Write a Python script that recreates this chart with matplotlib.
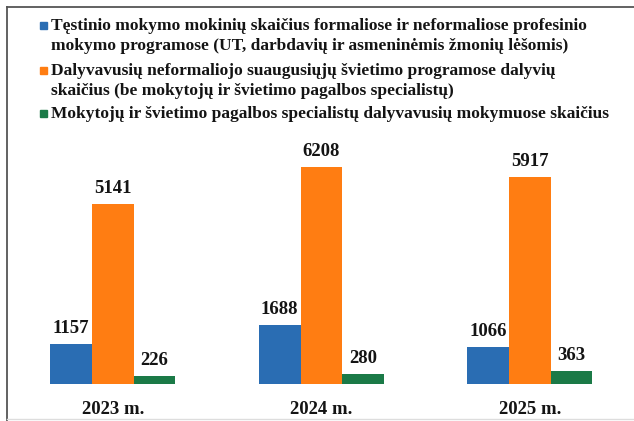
import matplotlib
matplotlib.use("Agg")
import matplotlib.pyplot as plt
from matplotlib.patches import Rectangle
from matplotlib.lines import Line2D
import numpy as np

categories = ["2023 m.", "2024 m.", "2025 m."]
series_labels = [
    "Tęstinio mokymo mokinių skaičius formaliose ir neformaliose profesinio\nmokymo programose (UT, darbdavių ir asmeninėmis žmonių lėšomis)",
    "Dalyvavusių neformaliojo suaugusiųjų švietimo programose dalyvių\nskaičius (be mokytojų ir švietimo pagalbos specialistų)",
    "Mokytojų ir švietimo pagalbos specialistų dalyvavusių mokymuose skaičius",
]
blue_values = [1157, 1688, 1066]
orange_values = [5141, 6208, 5917]
green_values = [226, 280, 363]
colors = ["#2a6db3", "#ff7d12", "#1b7a47"]

W, H = 634, 421
FONT = "Liberation Serif"
TXT = "#141414"

fig = plt.figure(figsize=(W / 100, H / 100), dpi=100)
fig.patch.set_facecolor("white")

def fx(px):
    return px / W

def fy(py):
    return 1 - py / H

# axes: baseline at y=384 px, 0.035 px per unit
ax = fig.add_axes([0, fy(384), 1, 7000 * 0.035 / H])
ax.set_xlim(-0.542, 2.50)
ax.set_ylim(0, 7000)

x = np.arange(len(categories))
w = 0.2
all_series = [blue_values, orange_values, green_values]
offsets = [-w, 0, w]
for vals, off, col in zip(all_series, offsets, colors):
    bars = ax.bar(x + off, vals, width=w, color=col, linewidth=0)
    ax.bar_label(bars, padding=5, fontsize=13.5, fontweight="bold",
                 family=FONT, color=TXT)

ax.set_xticks(x)
ax.set_xticklabels(categories, fontsize=13.5, fontweight="bold",
                   family=FONT, color=TXT)
ax.tick_params(axis="x", length=0, pad=12)
ax.set_yticks([])
for s in ax.spines.values():
    s.set_visible(False)
ax.patch.set_alpha(0)

# manual legend (markers beside first line of each entry)
entry_baselines = [30, 75, 118]
line_gap = 20
for label, col, yb in zip(series_labels, colors, entry_baselines):
    lines = label.split("\n")
    for i, ln in enumerate(lines):
        fig.text(fx(51), fy(yb + i * line_gap), ln, fontsize=12.5,
                 fontweight="bold", family=FONT, color=TXT,
                 ha="left", va="baseline")
    fig.patches.append(Rectangle((fx(40), fy(yb - 1)), fx(7), 7 / H,
                                 transform=fig.transFigure, color=col,
                                 zorder=5))

# frame lines
fig.lines.append(Line2D([fx(7), fx(634)], [fy(7), fy(7)],
                        transform=fig.transFigure, color="#555555", lw=1.3))
fig.lines.append(Line2D([fx(7), fx(7)], [fy(7), fy(421)],
                        transform=fig.transFigure, color="#555555", lw=1.3))
fig.lines.append(Line2D([fx(7), fx(634)], [fy(419), fy(419)],
                        transform=fig.transFigure, color="#dddddd", lw=1.0))

fig.savefig("out.png", dpi=100)
